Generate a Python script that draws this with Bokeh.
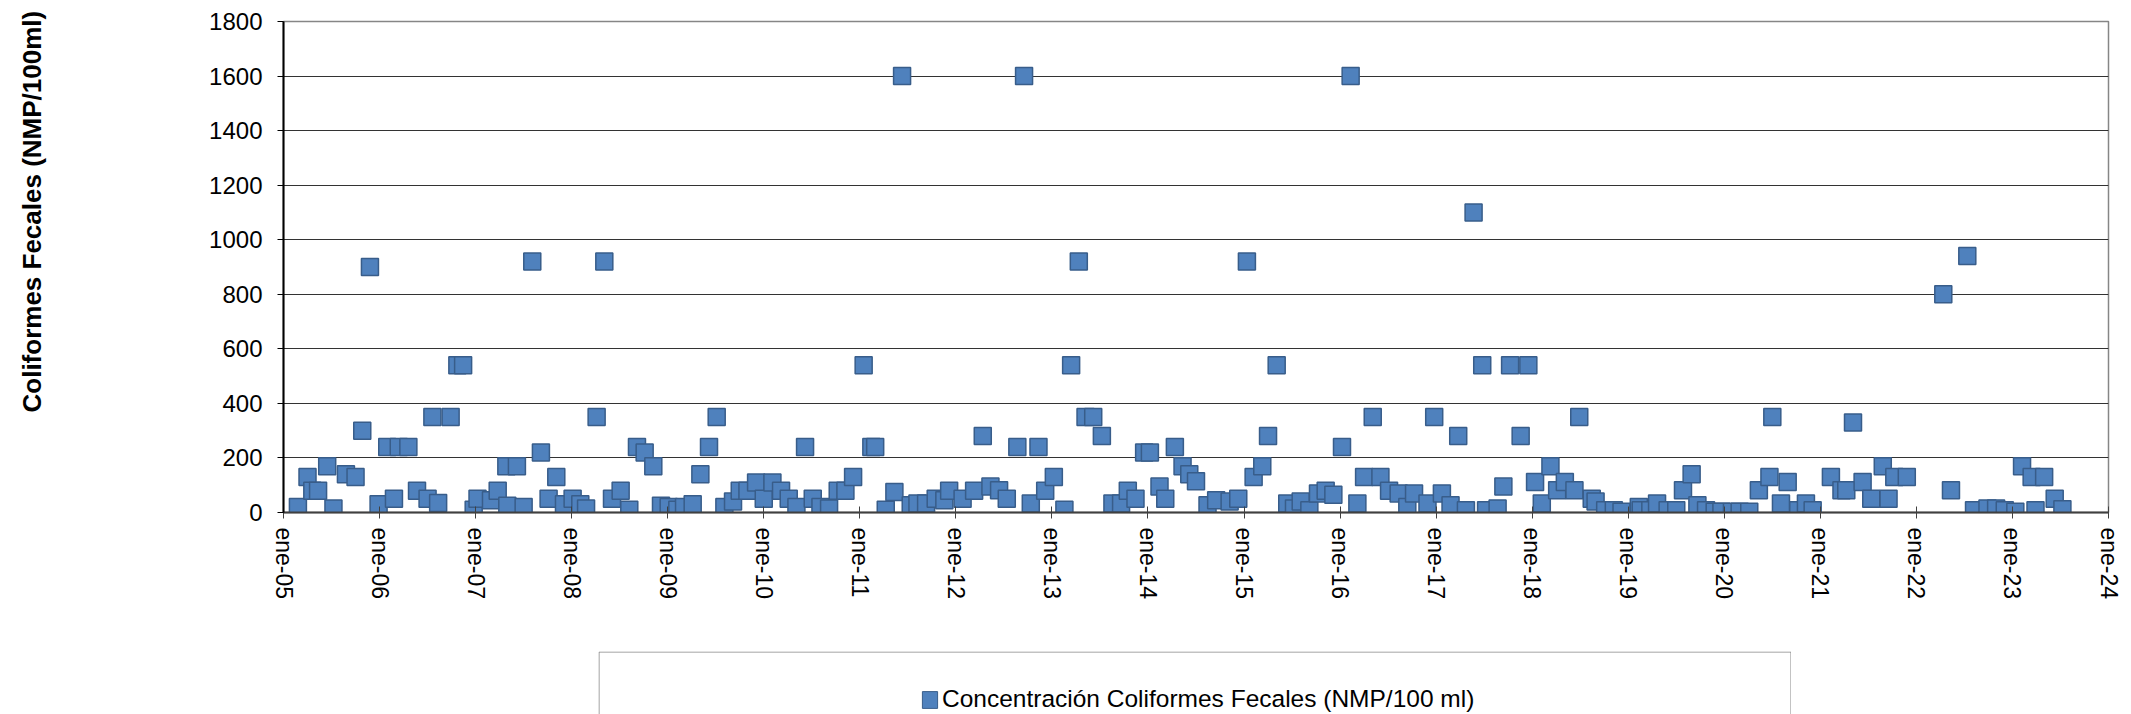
from bokeh.plotting import figure
from bokeh.models import Range1d, FixedTicker, Label, Legend, LegendItem, Spacer, ColumnDataSource
from bokeh.layouts import column, row
from bokeh.embed import file_html
from bokeh.resources import INLINE

# ---- data ----
anio = [
    2005.15, 2005.25, 2005.30, 2005.36, 2005.455, 2005.52, 2005.65, 2005.75, 2005.82, 2005.90,
    2005.99, 2006.08, 2006.15, 2006.20, 2006.30, 2006.39, 2006.50, 2006.55, 2006.61, 2006.74,
    2006.81, 2006.87, 2006.98, 2007.02, 2007.16, 2007.23, 2007.32, 2007.33, 2007.43, 2007.50,
    2007.59, 2007.68, 2007.76, 2007.84, 2007.92, 2008.01, 2008.09, 2008.15, 2008.26, 2008.34,
    2008.42, 2008.51, 2008.60, 2008.68, 2008.76, 2008.85, 2008.93, 2009.01, 2009.10, 2009.17,
    2009.26, 2009.34, 2009.43, 2009.51, 2009.59, 2009.68, 2009.75, 2009.83, 2009.92, 2010.00,
    2010.09, 2010.18, 2010.26, 2010.34, 2010.43, 2010.51, 2010.59, 2010.68, 2010.77, 2010.85,
    2010.93, 2011.04, 2011.12, 2011.16, 2011.27, 2011.36, 2011.44, 2011.53, 2011.60, 2011.69,
    2011.79, 2011.88, 2011.93, 2012.07, 2012.19, 2012.28, 2012.36, 2012.45, 2012.53, 2012.64,
    2012.71, 2012.78, 2012.86, 2012.93, 2013.02, 2013.13, 2013.20, 2013.28, 2013.35, 2013.43,
    2013.52, 2013.63, 2013.72, 2013.79, 2013.87, 2013.96, 2014.02, 2014.12, 2014.18, 2014.28,
    2014.36, 2014.43, 2014.50, 2014.62, 2014.71, 2014.85, 2014.94, 2015.03, 2015.10, 2015.19,
    2015.25, 2015.34, 2015.45, 2015.52, 2015.59, 2015.68, 2015.77, 2015.85, 2015.93, 2016.02,
    2016.11, 2016.18, 2016.25, 2016.34, 2016.42, 2016.51, 2016.61, 2016.70, 2016.77, 2016.91,
    2016.98, 2017.06, 2017.15, 2017.23, 2017.31, 2017.39, 2017.48, 2017.52, 2017.64, 2017.70,
    2017.77, 2017.88, 2017.96, 2018.03, 2018.10, 2018.19, 2018.26, 2018.34, 2018.44, 2018.49,
    2018.62, 2018.66, 2018.76, 2018.85, 2018.93, 2019.11, 2019.13, 2019.23, 2019.30, 2019.41,
    2019.50, 2019.57, 2019.66, 2019.72, 2019.81, 2019.90, 2019.97, 2020.08, 2020.16, 2020.26,
    2020.36, 2020.47, 2020.50, 2020.59, 2020.66, 2020.77, 2020.85, 2020.92, 2021.11, 2021.22,
    2021.27, 2021.34, 2021.44, 2021.53, 2021.65, 2021.71, 2021.77, 2021.90, 2022.28, 2022.36,
    2022.53, 2022.60, 2022.74, 2022.83, 2022.92, 2023.03, 2023.10, 2023.20, 2023.24, 2023.33,
    2023.44, 2023.52,
]
coliformes = [
    20, 130, 80, 80, 170, 15, 140, 130, 300, 900,
    30, 240, 50, 240, 240, 80, 50, 350, 35, 350,
    540, 540, 10, 50, 45, 80, 170, 25, 170, 20,
    920, 220, 50, 130, 30, 50, 30, 15, 350, 920,
    50, 80, 10, 240, 220, 170, 25, 20, 10, 20,
    30, 140, 240, 350, 20, 40, 80, 80, 110, 50,
    110, 80, 50, 20, 240, 50, 20, 15, 80, 80,
    130, 540, 240, 240, 10, 75, 1600, 27, 33, 33,
    50, 45, 80, 50, 80, 280, 95, 82, 50, 240,
    1600, 33, 240, 80, 130, 10, 540, 920, 350, 350,
    280, 33, 33, 80, 50, 220, 220, 95, 50, 240,
    170, 140, 115, 27, 45, 40, 50, 920, 130, 170,
    280, 540, 33, 15, 40, 8, 70, 80, 65, 240,
    1600, 33, 130, 350, 130, 80, 70, 20, 70, 33,
    350, 70, 27, 280, 8, 1100, 540, 8, 15, 95,
    540, 280, 540, 112, 33, 170, 82, 112, 82, 350,
    50, 40, 8, 8, 3, 20, 8, 8, 33, 8,
    8, 82, 140, 27, 8, 3, 3, 3, 3, 3,
    82, 130, 350, 33, 112, 8, 33, 8, 130, 82,
    82, 330, 112, 50, 170, 50, 130, 130, 800, 82,
    940, 8, 15, 15, 8, 3, 170, 130, 8, 130,
    50, 12,
]
anios_ticks = list(range(2005, 2025))
etiquetas_x = ["ene-05", "ene-06", "ene-07", "ene-08", "ene-09", "ene-10", "ene-11",
               "ene-12", "ene-13", "ene-14", "ene-15", "ene-16", "ene-17", "ene-18",
               "ene-19", "ene-20", "ene-21", "ene-22", "ene-23", "ene-24"]
y_ticks = [0, 200, 400, 600, 800, 1000, 1200, 1400, 1600, 1800]
serie_nombre = "Concentración Coliformes Fecales (NMP/100 ml)"
eje_y_titulo = "Coliformes Fecales (NMP/100ml)"

FILL = "#4F81BD"
EDGE = "#385D8A"
FONT = "Liberation Sans"
PAGE_H = 714
TOP_H = 651
TITLE_W = 60

src = ColumnDataSource(dict(anio=anio, valor=coliformes))

p = figure(width=2123 - TITLE_W, height=TOP_H,
           x_range=Range1d(anios_ticks[0], anios_ticks[-1]),
           y_range=Range1d(y_ticks[0], y_ticks[-1]),
           output_backend="svg", toolbar_location=None, title_location=None,
           min_border_left=283 - TITLE_W, min_border_right=15, min_border_top=21,
           min_border_bottom=139)
p.outline_line_color = "#868686"
p.outline_line_width = 1.5
p.background_fill_color = "white"

p.scatter(x="anio", y="valor", source=src, marker="square", size=17,
          fill_color=FILL, line_color=EDGE, line_width=1.5)

# x axis
p.xaxis.ticker = FixedTicker(ticks=anios_ticks)
p.xaxis.major_label_overrides = {t: lab for t, lab in zip(anios_ticks, etiquetas_x)}
p.xaxis.major_label_orientation = "vertical"
p.xaxis.major_label_text_font = FONT
p.xaxis.major_label_text_font_size = "23px"
p.xaxis.major_label_text_color = "black"
p.xaxis.major_label_standoff = 9
p.xaxis.axis_line_color = "#404040"
p.xaxis.axis_line_width = 2
p.xaxis.major_tick_in = 6
p.xaxis.major_tick_out = 6
p.xaxis.major_tick_line_color = "#404040"
p.xaxis.minor_tick_line_color = None

# y axis
p.yaxis.ticker = FixedTicker(ticks=y_ticks)
p.yaxis.major_label_text_font = FONT
p.yaxis.major_label_text_font_size = "24px"
p.yaxis.major_label_text_color = "black"
p.yaxis.major_label_standoff = 15
p.yaxis.axis_line_color = "black"
p.yaxis.axis_line_width = 2
p.yaxis.major_tick_in = 0
p.yaxis.major_tick_out = 6
p.yaxis.major_tick_line_color = "black"
p.yaxis.minor_tick_line_color = None

p.xgrid.visible = False
p.ygrid.grid_line_color = "black"
p.ygrid.grid_line_alpha = 0.8
p.ygrid.grid_line_width = 1

# y-axis title in its own narrow full-height panel on the left
tf = figure(width=TITLE_W, height=PAGE_H, x_range=Range1d(0, TITLE_W), y_range=Range1d(0, PAGE_H),
            output_backend="svg", toolbar_location=None, title_location=None,
            x_axis_type=None, y_axis_type=None, min_border=0)
tf.outline_line_color = None
tf.add_layout(Label(x=31, y=PAGE_H - 412, text=eje_y_titulo, angle=90, angle_units="deg",
                    text_align="left", text_baseline="middle",
                    text_font=FONT, text_font_size="26px", text_font_style="bold",
                    text_color="black"))

# legend box below the plot
LEG_H = PAGE_H - TOP_H
lf = figure(width=1193, height=LEG_H, x_range=Range1d(0, 1193), y_range=Range1d(0, LEG_H),
            output_backend="svg", toolbar_location=None, title_location=None,
            x_axis_type=None, y_axis_type=None, min_border=0)
lf.outline_line_color = None
lf.line(x=[0.5, 0.5, 1192.5, 1192.5], y=[-5, LEG_H - 0.5, LEG_H - 0.5, -5],
        line_color="#868686", line_width=1)
# same series drawn (outside the visible range) only to provide the legend swatch
swatch = lf.rect(x="anio", y="valor", width=1, height=1, source=src,
                 fill_color=FILL, line_color=EDGE, line_width=1)
leg = Legend(items=[LegendItem(label=serie_nombre, renderers=[swatch])],
             location=(322, 1), glyph_width=19, glyph_height=21, label_standoff=3,
             padding=0, margin=0, border_line_color=None, background_fill_alpha=0,
             label_text_font=FONT, label_text_font_size="24.5px", label_text_color="black")
lf.add_layout(leg)

layout = row(tf, column(p, row(Spacer(width=598 - TITLE_W, height=LEG_H), lf)))

open("out.html", "w").write(file_html(layout, INLINE))
